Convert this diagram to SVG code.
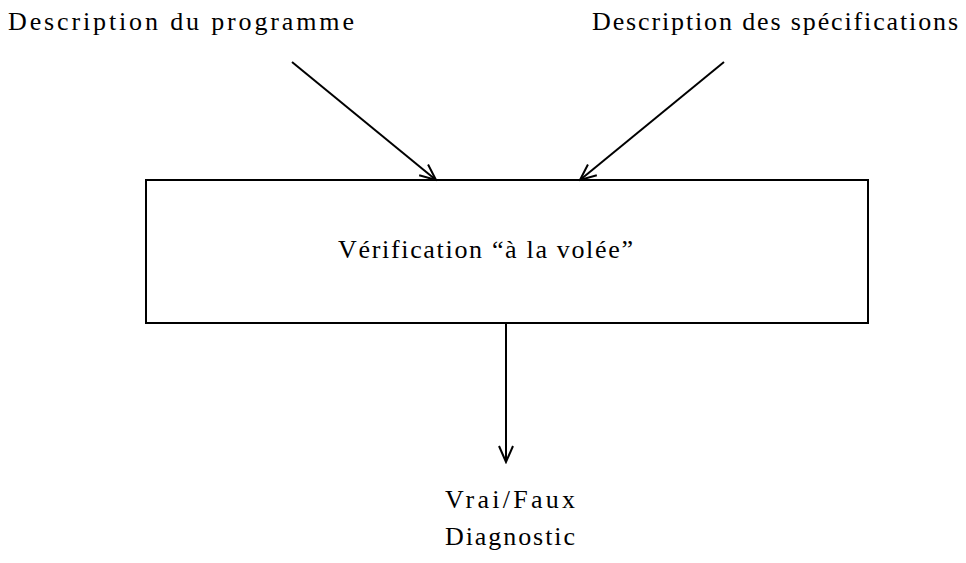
<svg xmlns="http://www.w3.org/2000/svg" width="966" height="563" viewBox="0 0 966 563">
  <style>
    text { font-family: "Liberation Serif", "DejaVu Serif", serif; font-size: 26px; fill: #000; }
    .box { fill: #fff; stroke: #000; stroke-width: 2; }
    .edge { fill: none; stroke: #000; stroke-width: 2; }
  </style>
  <defs>
    <marker id="arrow" viewBox="0 0 20 20" refX="18" refY="10" markerWidth="20" markerHeight="20" markerUnits="userSpaceOnUse" orient="auto">
      <path d="M2,3 L18,10 L2,17" fill="none" stroke="#000" stroke-width="2"/>
    </marker>
  </defs>
  <rect width="966" height="563" fill="#fff"/>

  <g id="input-programme">
    <text x="8" y="30" textLength="346" lengthAdjust="spacing">Description du programme</text>
  </g>
  <g id="input-specifications">
    <text x="592" y="30" textLength="366" lengthAdjust="spacing">Description des spécifications</text>
  </g>

  <g id="verification">
    <rect class="box" x="146" y="180" width="722" height="143"/>
    <text x="338" y="258" textLength="295" lengthAdjust="spacing">Vérification “à la volée”</text>
  </g>

  <g id="output">
    <text x="445" y="508" textLength="130" lengthAdjust="spacing">Vrai/Faux</text>
    <text x="445" y="545" textLength="130" lengthAdjust="spacing">Diagnostic</text>
  </g>

  <g id="connectors">
    <line class="edge" x1="292" y1="62" x2="436" y2="180" marker-end="url(#arrow)"/>
    <line class="edge" x1="724" y1="62" x2="580" y2="180" marker-end="url(#arrow)"/>
    <line class="edge" x1="506" y1="323" x2="506" y2="462" marker-end="url(#arrow)"/>
  </g>
</svg>
